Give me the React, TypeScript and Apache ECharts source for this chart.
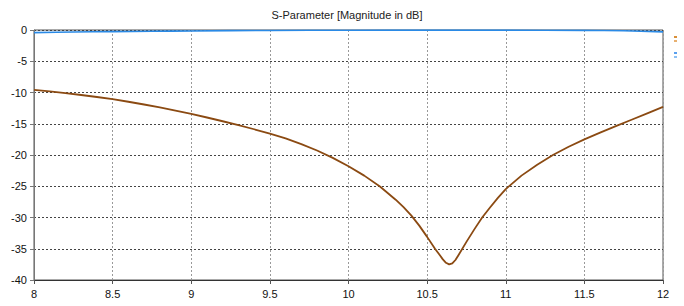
import React, { useEffect, useRef } from "react";
import * as echarts from "echarts";

const title = "S-Parameter [Magnitude in dB]";

// S21 (brown) frequency points and magnitudes in dB
const s21Freq = [8.0, 8.1, 8.2, 8.3, 8.4, 8.5, 8.6, 8.7, 8.8, 8.9, 9.0, 9.1, 9.2, 9.3, 9.4, 9.5, 9.6, 9.7, 9.8, 9.9, 10.0, 10.1, 10.2, 10.3, 10.35, 10.4, 10.45, 10.5, 10.55, 10.58, 10.6, 10.62, 10.64, 10.66, 10.68, 10.7, 10.75, 10.8, 10.85, 10.9, 10.95, 11.0, 11.1, 11.2, 11.3, 11.4, 11.5, 11.6, 11.7, 11.8, 11.9, 12.0];
const s21Db = [-9.58, -9.83, -10.1, -10.4, -10.72, -11.07, -11.48, -11.92, -12.39, -12.89, -13.43, -14.0, -14.6, -15.23, -15.88, -16.57, -17.35, -18.25, -19.28, -20.46, -21.8, -23.3, -25.05, -27.15, -28.35, -29.7, -31.3, -33.1, -35.0, -36.0, -36.7, -37.25, -37.5, -37.35, -36.8, -36.0, -33.9, -31.9, -30.0, -28.4, -26.85, -25.45, -23.3, -21.55, -20.0, -18.68, -17.5, -16.42, -15.38, -14.36, -13.33, -12.3];

// S11 (blue) near 0 dB
const s11Freq = [8.0, 8.25, 8.5, 8.75, 9.0, 9.5, 10.0, 10.5, 11.0, 11.5, 11.75, 12.0];
const s11Db = [-0.42, -0.32, -0.26, -0.2, -0.15, -0.07, -0.03, -0.01, -0.02, -0.06, -0.12, -0.3];

const xMin = 8;
const xMax = 12;
const xStep = 0.5;
const yMin = -40;
const yMax = 0;
const yStep = 5;

export default function App() {
  const ref = useRef<HTMLDivElement>(null);
  useEffect(() => {
    if (!ref.current) return;
    const chart = echarts.init(ref.current, null, { renderer: "svg" });
    const font = "Liberation Sans";
    chart.setOption({
      animation: false,
      backgroundColor: "#ffffff",
      title: {
        text: title,
        left: 342,
        textAlign: "center",
        top: 4,
        textStyle: { fontFamily: font, fontSize: 11, fontWeight: "normal", color: "#222" },
      },
      grid: {
        left: 34,
        right: 21,
        top: 30,
        bottom: 26,
        show: true,
        borderColor: "#555",
        borderWidth: 1,
        backgroundColor: "transparent",
      },
      xAxis: {
        type: "value",
        min: xMin,
        max: xMax,
        interval: xStep,
        axisLine: { show: true, onZero: false, lineStyle: { color: "#333", width: 1 } },
        axisTick: { show: true, length: 4, lineStyle: { color: "#555" } },
        axisLabel: { fontFamily: font, fontSize: 11, color: "#111", margin: 8 },
        splitLine: { show: true, lineStyle: { color: "#999", type: [2, 2], width: 1 } },
      },
      yAxis: {
        type: "value",
        min: yMin,
        max: yMax,
        interval: yStep,
        axisLine: { show: true, onZero: false, lineStyle: { color: "#777", width: 1 } },
        axisTick: { show: true, length: 4, lineStyle: { color: "#777" } },
        axisLabel: { fontFamily: font, fontSize: 11, color: "#111", margin: 7 },
        splitLine: { show: true, lineStyle: { color: "#444", type: [2, 2], width: 1 } },
      },
      graphic: [
        { type: "rect", shape: { x: 674, y: 36, width: 3, height: 2 }, style: { fill: "#d9903a" } },
        { type: "rect", shape: { x: 674, y: 40, width: 3, height: 2 }, style: { fill: "#e8b070" } },
        { type: "rect", shape: { x: 674, y: 52, width: 3, height: 2 }, style: { fill: "#5aa0ee" } },
        { type: "rect", shape: { x: 674, y: 56, width: 3, height: 2 }, style: { fill: "#8cc0f4" } },
      ],
      series: [
        {
          type: "line",
          name: "S2,1",
          data: s21Freq.map((f, i) => [f, s21Db[i]]),
          smooth: false,
          showSymbol: false,
          lineStyle: { color: "#8b4a12", width: 1.8, join: "round" },
          z: 3,
        },
        {
          type: "line",
          name: "S1,1",
          data: s11Freq.map((f, i) => [f, s11Db[i]]),
          smooth: 0.3,
          showSymbol: false,
          lineStyle: { color: "#2a8ae6", width: 1.6 },
          z: 4,
        },
      ],
    });
    return () => chart.dispose();
  }, []);
  return <div ref={ref} style={{ width: 684, height: 306, position: "absolute", left: 0, top: 0 }} />;
}
